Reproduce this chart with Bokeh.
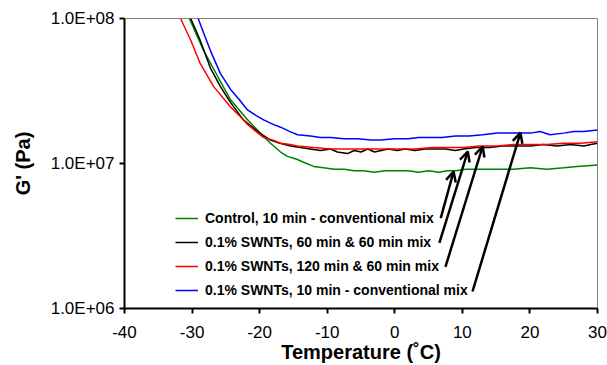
from bokeh.plotting import figure
from bokeh.models import (ColumnDataSource, Legend, LegendItem, FixedTicker,
                          CustomJSTickFormatter, Arrow, OpenHead, Range1d)
from bokeh.embed import file_html
from bokeh.resources import INLINE

FONT = "Liberation Sans"

# ---- data ----
temp_control = [-30.4, -28.3, -26.2, -24.3, -21.8, -19.9, -18.4, -16.9, -15.9, -14.5, -13.5, -12, -10.5, -9, -7.5,
                -6, -4.6, -3, -1.5, 0.4, 2, 3.5, 5, 6.5, 7.8, 9, 10.5, 12.7, 15, 17.5, 20.1, 22.5, 25, 27, 30]
g_control = [1.00e8, 6.03e7, 3.98e7, 2.75e7, 2.00e7, 1.62e7, 1.38e7, 1.20e7, 1.12e7, 1.07e7, 1.02e7, 9.55e6, 9.33e6,
             9.12e6, 9.12e6, 8.91e6, 8.91e6, 8.71e6, 8.91e6, 8.91e6, 8.91e6, 8.71e6, 8.91e6, 8.71e6, 8.91e6, 8.91e6,
             9.12e6, 9.12e6, 9.12e6, 9.12e6, 9.33e6, 9.12e6, 9.33e6, 9.55e6, 9.77e6]

temp_60 = [-30.2, -28.8, -27.3, -25.8, -24.3, -22.4, -20.3, -18.4, -17, -15.4, -14, -12.5, -11, -9.5, -8.5, -7.0,
           -6, -5, -4, -3, -2, -1, 0.4, 1.5, 3, 4.5, 6, 7.5, 9, 10.2, 12, 14, 16, 18, 20.1, 22, 24, 26, 28, 29, 30]
g_60 = [1.00e8, 7.08e7, 4.57e7, 3.39e7, 2.63e7, 2.00e7, 1.66e7, 1.45e7, 1.38e7, 1.32e7, 1.29e7, 1.26e7, 1.23e7,
        1.26e7, 1.20e7, 1.17e7, 1.23e7, 1.20e7, 1.26e7, 1.20e7, 1.23e7, 1.26e7, 1.23e7, 1.26e7, 1.23e7, 1.26e7,
        1.26e7, 1.26e7, 1.23e7, 1.26e7, 1.29e7, 1.29e7, 1.32e7, 1.32e7, 1.32e7, 1.35e7, 1.32e7, 1.35e7, 1.32e7,
        1.35e7, 1.38e7]

temp_120 = [-31.7, -30.2, -28.8, -26.8, -24.3, -23.0, -21.8, -20.5, -19.4, -18.0, -16.9, -15.5, -14.4, -12, -9.5,
            -7, -4.5, -2, 0.4, 3, 5.5, 8, 10.2, 12.5, 15.2, 17.5, 20.1, 22.5, 25, 27.5, 30]
g_120 = [1.00e8, 7.08e7, 4.90e7, 3.39e7, 2.45e7, 2.14e7, 1.86e7, 1.66e7, 1.51e7, 1.45e7, 1.38e7, 1.35e7, 1.32e7,
         1.29e7, 1.26e7, 1.26e7, 1.26e7, 1.26e7, 1.26e7, 1.26e7, 1.29e7, 1.29e7, 1.29e7, 1.32e7, 1.32e7, 1.35e7,
         1.35e7, 1.35e7, 1.38e7, 1.38e7, 1.41e7]

temp_10 = [-29.1, -28.2, -27.3, -25.8, -24.3, -23.0, -21.8, -20.5, -19.4, -18.0, -16.9, -15.5, -14.4, -12.5, -11.0,
           -9.5, -7.5, -5.5, -3.5, -2.1, 0, 2, 3.5, 5.3, 7, 9, 11, 13, 15.2, 17, 18.6, 20.1, 21.5, 23, 25, 26.5, 28, 30]
g_10 = [1.00e8, 7.76e7, 6.03e7, 4.17e7, 3.24e7, 2.75e7, 2.34e7, 2.14e7, 2.00e7, 1.86e7, 1.78e7, 1.66e7, 1.58e7,
        1.55e7, 1.51e7, 1.51e7, 1.48e7, 1.48e7, 1.45e7, 1.45e7, 1.48e7, 1.48e7, 1.51e7, 1.51e7, 1.51e7, 1.55e7,
        1.55e7, 1.58e7, 1.62e7, 1.62e7, 1.62e7, 1.62e7, 1.66e7, 1.58e7, 1.62e7, 1.66e7, 1.66e7, 1.70e7]

series_labels = ["Control, 10 min - conventional mix",
                 "0.1% SWNTs, 60 min & 60 min mix",
                 "0.1% SWNTs, 120 min & 60 min mix",
                 "0.1% SWNTs, 10 min - conventional mix"]
series_colors = ["#008000", "#000000", "#ff0000", "#0000ff"]

# arrows from legend labels to curves
arrow_tail_temp = [6.8, 6.6, 7.5, 11.5]
arrow_tail_g = [4.20e6, 2.83e6, 1.94e6, 1.31e6]
arrow_head_temp = [8.7, 10.8, 13.0, 18.6]
arrow_head_g = [8.81e6, 1.21e7, 1.31e7, 1.63e7]

x_ticks = [-40, -30, -20, -10, 0, 10, 20, 30]
x_tick_labels = ["-40", "-30", "-20", "-10", "0", "10", "20", "30"]
y_ticks = [1e6, 1e7, 1e8]
y_tick_labels = ["1.0E+06", "1.0E+07", "1.0E+08"]

# ---- figure ----
p = figure(width=607, height=365, x_range=Range1d(-40, 30), y_range=Range1d(1e6, 1e8),
           y_axis_type="log", output_backend="svg", toolbar_location=None,
           min_border_left=124, min_border_right=10, min_border_top=18, min_border_bottom=55)
p.background_fill_color = "white"
p.border_fill_color = "white"
p.outline_line_color = "#808080"
p.outline_line_width = 1
p.xgrid.visible = False
p.ygrid.visible = False

renderers = []
for t, g, c in zip([temp_control, temp_60, temp_120, temp_10],
                   [g_control, g_60, g_120, g_10], series_colors):
    r = p.line(t, g, line_color=c, line_width=1.5)
    renderers.append(r)

arrow_src = ColumnDataSource(dict(x0=arrow_tail_temp, y0=arrow_tail_g, x1=arrow_head_temp, y1=arrow_head_g))
p.add_layout(Arrow(end=OpenHead(size=10, line_width=2.5, line_color="black"),
                   x_start="x0", y_start="y0", x_end="x1", y_end="y1",
                   line_width=2.5, line_color="black", source=arrow_src))

legend = Legend(items=[LegendItem(label=lab, renderers=[r]) for lab, r in zip(series_labels, renderers)],
                location=(51, 6), glyph_width=23, glyph_height=24, label_height=24, spacing=0,
                padding=0, margin=0, label_standoff=7, border_line_color=None, background_fill_alpha=0,
                label_text_font=FONT, label_text_font_size="14px", label_text_font_style="bold",
                label_text_color="black")
p.add_layout(legend)

JS_LABELS = """
    for (let i = 0; i < vals.length; i++) {
        if (Math.abs(tick - vals[i]) <= 1e-6 * Math.max(1, Math.abs(vals[i]))) return labs[i];
    }
    return "";
"""

# axes
xa = p.xaxis[0]
xa.ticker = FixedTicker(ticks=x_ticks)
xa.formatter = CustomJSTickFormatter(args=dict(vals=x_ticks, labs=x_tick_labels), code=JS_LABELS)
xa.axis_label = "Temperature (\u02daC)"
ya = p.yaxis[0]
ya.ticker = FixedTicker(ticks=y_ticks)
ya.formatter = CustomJSTickFormatter(args=dict(vals=y_ticks, labs=y_tick_labels), code=JS_LABELS)
ya.axis_label = "G' (Pa)"

for ax in (xa, ya):
    ax.axis_line_color = "black"
    ax.axis_line_width = 2
    ax.major_tick_line_color = "black"
    ax.major_tick_line_width = 2
    ax.major_tick_in = 0
    ax.major_tick_out = 5
    ax.minor_tick_line_color = None
    ax.major_label_text_font = FONT
    ax.major_label_text_font_size = "17px"
    ax.major_label_text_color = "black"
    ax.axis_label_text_font = FONT
    ax.axis_label_text_font_size = "20px"
    ax.axis_label_text_font_style = "bold"
    ax.axis_label_text_color = "black"

xa.major_label_standoff = 12
xa.axis_label_standoff = 0
ya.major_label_standoff = 5
ya.axis_label_standoff = 14

open("out.html", "w").write(file_html(p, INLINE))
